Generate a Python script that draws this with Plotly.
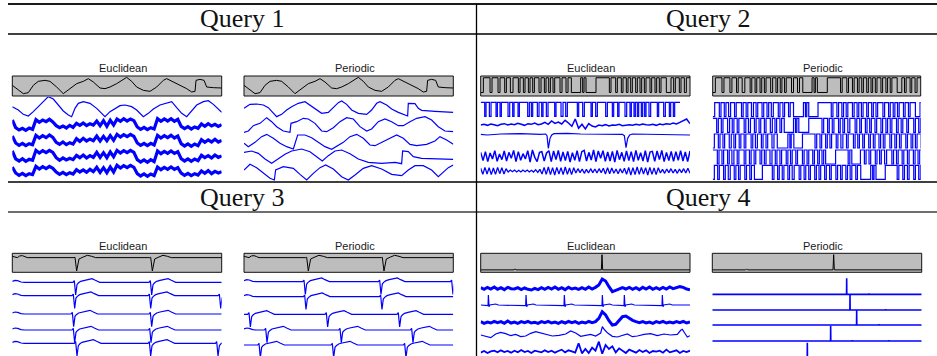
import plotly.graph_objects as go

W, H = 937, 356
SPAN = 628  # samples per window

# ======================= DATA =======================
# ---- Query 1 (shared by Euclidean / Periodic boxes) : (t, value)
Q1_QUERY = [(0,32),(18,17),(33,7),(48,10),(63,32),(78,44),(98,47),(113,44),(133,27),(153,7),(173,22),(193,37),
            (213,44),(228,52),(243,42),(263,24),(278,22),(293,27),(313,37),(328,47),(343,56),(358,44),(373,27),
            (393,17),(413,14),(433,27),(453,47),(463,52),(483,42),(503,32),(523,22),(538,12),(548,14),(551,47),
            (563,50),(575,47),(583,27),(603,25),(628,24)]
E1_SMOOTH = [(0,5),(18,-5),(33,-18),(48,-23),(63,-10),(83,10),(98,25),(108,35),(123,28),(138,10),(153,-8),(168,-20),
             (178,-25),(188,0),(198,15),(213,20),(233,15),(253,0),(268,-15),(278,-25),(293,-10),(308,0),(323,8),
             (338,10),(358,5),(373,-5),(393,-25),(408,-15),(423,-2),(443,10),(463,17),(478,20),(493,2),(508,-15),
             (523,-25),(538,-8),(553,10),(573,20),(588,23),(603,12),(618,-3),(628,-12)]
E1_NOISY = [
    [15,-8,-15,-10,-16,-9,-13,16,8,15,10,17,9,-2,-8,-3,-9,-1,-7,5,-1,6,-2,4,0,12,-2,13,-4,14,0,18,11,19,12,18,13,
     -6,-13,-7,-14,-8,-12,19,11,18,12,19,11,17,-4,-11,-5,-12,-6,-10,3,-4,4,-3,2,-4,1],
    [12,-9,-16,-10,-17,-11,-14,14,6,13,7,15,8,-7,-13,-6,-14,-8,-12,4,-4,5,-3,3,-2,12,-3,11,-2,13,-1,17,9,16,10,17,11,
     -9,-16,-10,-17,-10,-15,14,6,13,7,14,6,12,-11,-18,-12,-19,-12,-17,1,-7,0,-6,2,-6,-1],
    [14,-10,-16,-9,-17,-11,-14,16,8,15,9,16,10,-6,-14,-7,-13,-8,-12,1,-6,2,-7,0,-5,10,-5,9,-6,11,-3,16,8,15,9,16,10,
     -12,-19,-13,-20,-12,-18,14,6,13,7,14,7,12,-9,-16,-10,-17,-10,-15,1,-6,0,-7,2,-5,-1],
    [12,-6,-13,-7,-14,-8,-11,14,6,13,7,14,8,-3,-10,-4,-11,-5,-9,4,-3,3,-4,5,-2,11,-4,10,-5,12,-3,17,9,16,10,17,11,
     -8,-15,-9,-16,-9,-14,12,4,11,5,12,5,10,-6,-13,-7,-14,-8,-12,0,-7,1,-8,-1,-6,-2],
]
P1_LINES = [
    [(0,0),(18,12),(38,13),(58,10),(73,2),(88,-15),(98,-25),(113,-18),(128,-5),(143,5),(163,15),(183,20),(198,10),
     (213,-2),(233,-15),(253,-12),(268,2),(283,17),(293,22),(308,12),(323,-5),(343,-15),(368,-18),(383,-5),(398,15),
     (408,20),(428,10),(443,-2),(463,-12),(483,-20),(491,-23),(493,15),(513,14),(523,0),(533,-6),(573,-9),(628,-12)],
    [(0,-22),(13,-18),(28,-2),(48,5),(68,22),(83,10),(98,-5),(118,-18),(138,-22),(141,5),(158,10),(178,20),(193,18),
     (213,5),(233,-18),(248,-20),(268,-8),(288,10),(308,22),(328,18),(348,-5),(368,-18),(383,-12),(403,10),(423,18),
     (443,10),(463,-2),(478,-2),(498,10),(518,20),(543,25),(563,15),(583,-5),(603,-18),(628,-20)],
    [(0,-5),(13,-15),(33,-2),(53,15),(68,22),(88,10),(108,-5),(128,-15),(148,-22),(153,-5),(161,20),(183,20),(203,12),
     (223,-2),(243,-15),(263,-23),(278,-15),(298,-2),(318,15),(338,22),(358,10),(378,-10),(393,-12),(413,-2),(433,10),
     (458,20),(478,10),(498,-8),(518,-12),(548,-8),(573,2),(588,15),(608,5),(628,-8)],
    [(0,13),(23,17),(43,10),(63,-7),(83,-20),(103,-7),(123,7),(143,17),(173,23),(198,15),(218,0),(235,-13),(253,3),
     (273,17),(293,20),(318,9),(343,-7),(373,-17),(413,-20),(453,-17),(473,-21),(476,17),(493,15),(508,0),(533,-5),
     (573,-6),(628,-8)],
    [(0,5),(18,22),(38,12),(58,-5),(78,-20),(91,-25),(95,5),(118,15),(148,10),(168,-8),(188,-25),(208,-5),(228,12),
     (245,20),(268,8),(293,-15),(313,-25),(333,-10),(358,10),(383,18),(413,8),(443,-8),(473,-12),(493,5),(513,18),
     (538,18),(563,5),(583,-15),(598,-2),(613,12),(628,20)],
]

# ---- Query 2 : run lengths of alternating levels
Q2_QUERY_RUNS = [8,20,6,18,6,14,5,12,8,16,5,10,5,10,5,8,5,14,6,10,5,8,5,8,5,16,6,12,6,10,28,6,4,6,30,40,5,14,5,12,
                 5,10,5,8,5,10,5,8,5,8,5,12,5,10,5,8,5,16,14,8,5,12,5,10,6,11]
E2_SQUARE_RUNS = [12,4,10,5,15,4,8,4,20,5,9,4,12,4,25,5,6,4,14,5,8,4,10,5,20,4,15,6,8,5,30,4,12,5,20,4,10,5,25,5,
                  15,4,12,4,18,5,10,4,8,4,6,4,8,4,6,4,9,5,20,4,15,5,12,4,8,4,16]
E2_NOISE = [0,2,-1,3,1,-2,2,4,0,3,1,5,2,-1,4,2,6,1,3,8,2,12,5,9,3,14,6,-4,18,-10,2,-12,4,-3,-6,0,-2,1,-3,0,
            -1,2,-2,0,1,-1,2,0,3,1,0,2,-1,3,1,4,2,6,3,8,12,18,4]
E2_SPIKES = [(0,2),(20,0),(60,3),(120,4),(180,2),(195,3),(199,-2),(203,-40),(208,-10),(213,0),(220,4),(260,5),
             (300,3),(380,2),(425,2),(431,-2),(436,-38),(441,-10),(447,0),(455,3),(500,2),(560,0),(628,0)]
E2_OSC = [10,-15,12,-18,8,-10,15,-17,5,-12,14,-16,10,-8,16,-18,12,-14,6,-10,
          15,-19,17,-5,-18,10,12,-16,8,15,-18,14,-12,16,-17,11,-15,13,-19,9,
          -14,15,-18,12,16,-16,10,-13,17,-18,14,-8,15,-17,11,-16,13,-19,16,-12,
          10,-17,14,-15,12,-18,16,-14,9,-16,15,-19,11,13,-17,14,-12,16,-18,10,
          -15,13,-17,12,-14,15,-16,11,-18,14]
E2_WAVE = [8,-10,11,-9,10,-11,9,-10,11,-8,10,-9,7,
           -3,3,-2,3,-3,2,-3,3,-2,3,-3,2,-3,4,-4,5,
           -9,11,-10,12,-11,10,-12,11,-9,10,-11,12,-10,9,-11,10,
           -6,7,-5,6,-7,5,-6,7,-5,6,-6,7,-5,8,-9,10,-8,9,-7,6,-8,7,-6,8,
           -10,11,-12,10,-11,12,-10,11,-9,10,-12,11,-10,9,-11,10,
           -6,5,-7,6,-5,7,-6,5,-7,6,-5,7,-6,8,-7]
P2_RUNS = [
    (0, [6,14,5,10,5,8,6,12,5,16,5,9,5,11,6,8,5,13,5,10,5,8,6,15,5,9,5,12,5,10,30,6,4,6,28,40,5,12,5,10,5,8,5,14,5,9,
         5,8,5,11,5,10,5,8,5,16,5,12,5,9,5,8,5,13,5,10,5,16,14,10]),
    (1, [12,5,9,5,14,6,8,5,10,5,16,5,8,6,12,5,9,5,11,5,13,6,8,5,10,5,8,28,6,4,6,30,40,5,12,5,9,5,14,5,8,5,10,6,16,5,
         9,5,12,5,8,5,11,5,13,5,10,5,8,5,14,5,9,5,12,5,16,5,10,5,12]),
    (0, [5,12,5,9,5,14,6,8,5,11,5,10,5,16,5,8,6,12,5,9,5,13,6,10,32,6,4,8,26,38,5,10,5,12,5,8,5,14,5,9,6,11,5,16,5,8,
         5,10,5,13,5,9,5,12,5,8,5,15,5,10,5,9,5,14,5,11,5,8,5,12,5,10,5,16]),
    (1, [14,5,9,5,12,5,8,6,10,5,16,5,11,5,9,5,13,5,8,5,12,6,10,5,9,5,14,5,8,5,11,5,15,5,9,5,12,5,10,5,8,5,6,30,38,5,
         6,26,12,5,9,5,14,5,8,5,10,6,16,5,9,5,12,5,11,5,13,5,9,5,8,5]),
    (0, [5,10,5,13,5,9,6,12,5,8,5,14,5,10,5,9,24,30,5,11,5,9,5,12,5,8,6,15,5,10,5,9,5,13,5,8,5,12,5,10,5,14,5,9,5,11,
         5,8,5,12,5,10,30,6,4,6,28,36,5,12,5,9,5,14,5,10,5,8]),
]

# ---- Query 3 (ECG)
Q3_QUERY = [(0,4),(8,2),(15,0),(22,5),(30,6),(38,3),(45,0),(185,0),(188,1),(193,-40),(200,-4),(213,2),(225,7),
            (238,4),(250,0),(412,0),(415,1),(420,-40),(427,-4),(440,2),(452,7),(465,4),(477,0),(628,0)]
BEAT_DT = [-5, -1, 3, 7, 11, 18, 28, 40, 52, 62, 75]
BEAT_V = [0, 5, -38, -7, -2, 3, 6, 9, 11, 6, 0]
P_WAVE_DT = [0, 8, 16, 26, 36]
P_WAVE_V = [3, 6, 5, 1, 0]
E3_ONSETS = [[187, 415], [184, 412, 622], [181, 415], [184, 413], [191, 412, 614]]
E3_PWAVE = [True, True, True, True, True]
P3_ONSETS = [[181, 408, 624], [183, 411], [16, 248, 464], [66, 289, 504], [46, 266, 483]]
P3_PWAVE = [True, True, False, True, False]

# ---- Query 4
Q4_QUERY = [(0,0),(100,0),(103,3),(106,0),(362,0),(364,44),(366,0),(396,0),(398,2),(400,0),(628,0)]
E4_NOISY_A = [2,-3,3,-2,4,-3,2,-4,3,-1,-2,2,-4,1,-3,-5,0,-4,2,-3,3,-2,4,-3,2,-4,3,-2,1,-3,2,-3,4,-2,3,
              10,28,22,5,-10,-6,-2,2,-2,3,-3,2,-4,3,-2,4,-3,2,-3,3,-2,4,-1,2,5,3,-2,-4]
E4_SPIKE_ONSETS = [23, 136, 251, 365, 431, 545]
SPIKE_DT = [-4, -1, 0, 2, 4, 12, 22, 30]
SPIKE_V = [0, -2, 30, -5, 0, 2, 3, 0]
E4_NOISY_B = [2,-3,1,-2,3,-1,2,-3,4,-2,1,-3,2,-1,3,-2,0,-3,2,-1,3,-2,1,-3,2,-2,3,-1,2,-3,1,-2,3,-1,2,
              12,32,22,5,-8,-6,5,17,19,12,6,2,-1,2,-2,1,-3,2,-1,3,-2,1,-2,2,-1,3,-2,1]
E4_WAVY = [(0,0),(15,-3),(30,-8),(45,3),(60,8),(75,4),(90,-2),(105,2),(120,-5),(135,-3),(150,5),(165,10),(180,6),
           (195,2),(215,-3),(235,-1),(255,3),(270,12),(285,6),(300,-4),(315,-2),(330,2),(345,-3),(360,6),(365,25),
           (372,15),(382,5),(395,-4),(410,-6),(425,-2),(440,3),(455,-5),(470,-3),(490,2),(510,4),(530,-2),(550,3),
           (570,0),(590,2),(600,14),(605,17),(612,6),(620,-6),(628,-2)]
E4_NOISY_C = [-3,2,-4,1,3,-2,4,-1,2,-3,3,-2,5,-1,2,-4,3,0,-2,4,-1,3,-3,2,6,-2,4,1,-3,
              25,-5,8,-4,12,3,30,-6,20,8,16,-2,10,3,-4,6,2,-3,5,-1,4,-4,2,0,3,-3,6,-2,1,4,-4,2,-1,3]
P4_SPIKE_T = [403, 413, 433, 355, 285]
P4_SPIKE_H = [48, 47, 45, 46, 45]
P4_BLIPS = [[60, 140, 250, 470], [50, 150, 300, 520], [80, 170, 350, 500], [90, 200, 420, 530], [60, 230, 400, 560]]

# ======================= LAYOUT =======================
PANEL_X = {'E1': (12.3, 221.7), 'P1': (244.0, 453.3), 'E2': (480.7, 690.0), 'P2': (712.7, 920.7),
           'E3': (12.3, 221.7), 'P3': (244.0, 453.3), 'E4': (480.7, 690.0), 'P4': (712.3, 921.7)}
ROWS = {1: dict(oy=55, box=(76.0, 96.0), title=68.5, zy=(125, 378)),
        2: dict(oy=235, box=(253.3, 272.3), title=245.5, zy=(118, 363))}
BOX_YR = {1: [0, 60], 2: [-0.24, 1.12], 3: [-44, 13], 4: [-7, 48]}
REFS = {'E1': [160, 210, 255, 302, 348], 'P1': [160, 210, 260, 305, 350],
        'E2': [162, 210, 240, 302, 348], 'P2': [164, 211, 258, 306, 352],
        'E3': [142, 182, 237, 285, 325], 'P3': [140, 185, 238, 285, 330],
        'E4': [160, 210, 262, 300, 350], 'P4': [178, 225, 270, 318, 368]}
BLUE = '#0000ff'

fig = go.Figure()
_count = [0]


def make_axes(px0, px1, py0, py1, xr, yr):
    _count[0] += 1
    n = _count[0]
    s = '' if n == 1 else str(n)
    c = lambda v: min(1.0, max(0.0, v))
    fig.update_layout({
        f'xaxis{s}': dict(domain=[c(px0 / W), c(px1 / W)], range=xr, visible=False, fixedrange=True, anchor=f'y{s}'),
        f'yaxis{s}': dict(domain=[c(1 - py1 / H), c(1 - py0 / H)], range=yr, visible=False, fixedrange=True,
                          anchor=f'x{s}'),
    })
    return f'x{s}', f'y{s}'


def add_line(ax, xs, ys, color=BLUE, width=1.2, shape='linear'):
    fig.add_trace(go.Scatter(x=list(xs), y=list(ys), xaxis=ax[0], yaxis=ax[1], mode='lines',
                             line=dict(color=color, width=width, shape=shape),
                             hoverinfo='skip', showlegend=False))


def setup_panel(key, q, row, title):
    x0, x1 = PANEL_X[key]
    r = ROWS[row]
    box = make_axes(x0, x1, r['box'][0], r['box'][1], [0, SPAN], BOX_YR[q])
    fig.add_shape(type='rect', xref=f'{box[0]} domain', yref=f'{box[1]} domain', x0=0, x1=1, y0=0, y1=1,
                  fillcolor='#bdbdbd', line=dict(color='#111111', width=1), layer='below')
    lines = make_axes(x0, x1, r['oy'] + r['zy'][0] / 3, r['oy'] + r['zy'][1] / 3, [0, SPAN],
                      [-r['zy'][1], -r['zy'][0]])
    fig.add_annotation(x=((x0 + x1) / 2 + 6) / W, y=1 - r['title'] / H, xref='paper', yref='paper',
                       text=title, showarrow=False, xanchor='center', yanchor='middle',
                       font=dict(family='Liberation Sans, Arial', size=11, color='#1a1a1a'))
    return box, lines


def pairs(p):
    return [a for a, _ in p], [b for _, b in p]


def samples(vals):
    return [i * SPAN / (len(vals) - 1) for i in range(len(vals))], vals


def runs_xy(runs, start):
    xs, ys, t, lvl = [], [], 0, start
    for d in runs:
        xs.append(t); ys.append(lvl)
        t += d; lvl = 1 - lvl
    xs.append(t); ys.append(1 - lvl)
    return xs, ys


def ecg(onsets, pwave, dts=BEAT_DT, vs=BEAT_V):
    pts = list(zip(P_WAVE_DT, P_WAVE_V)) if pwave else [(0, 0)]
    for o in onsets:
        pts += [(o + d, v) for d, v in zip(dts, vs)]
    if all(o + dts[-1] < SPAN for o in onsets):
        pts.append((SPAN, 0))
    pts.sort()
    return pairs(pts)


def stacked(ax, ref, xs, ys, width=1.2, shape='linear'):
    add_line(ax, xs, [-ref + v for v in ys], width=width, shape=shape)


# ---------- Query 1 ----------
bx, ln = setup_panel('E1', 1, 1, 'Euclidean')
add_line(bx, *pairs(Q1_QUERY), color='#000000', width=1)
stacked(ln, REFS['E1'][0], *pairs(E1_SMOOTH))
for k, vals in enumerate(E1_NOISY):
    stacked(ln, REFS['E1'][k + 1], *samples(vals), width=3.2)

bx, ln = setup_panel('P1', 1, 1, 'Periodic')
add_line(bx, *pairs(Q1_QUERY), color='#000000', width=1)
for k, p in enumerate(P1_LINES):
    stacked(ln, REFS['P1'][k], *pairs(p))

# ---------- Query 2 ----------
SQ_HI, SQ_LO = 20, -22
bx, ln = setup_panel('E2', 2, 1, 'Euclidean')
add_line(bx, *runs_xy(Q2_QUERY_RUNS, 0), color='#000000', width=1, shape='hv')
xs, lv = runs_xy(E2_SQUARE_RUNS, 1)
stacked(ln, REFS['E2'][0], xs, [SQ_HI if v else SQ_LO for v in lv], shape='hv')
stacked(ln, REFS['E2'][1], *samples(E2_NOISE), width=1.5)
stacked(ln, REFS['E2'][2], *pairs(E2_SPIKES))
stacked(ln, REFS['E2'][3], *samples(E2_OSC), width=1.5)
stacked(ln, REFS['E2'][4], *samples(E2_WAVE), width=1.3)

bx, ln = setup_panel('P2', 2, 1, 'Periodic')
add_line(bx, *runs_xy(Q2_QUERY_RUNS, 0), color='#000000', width=1, shape='hv')
for k, (start, runs) in enumerate(P2_RUNS):
    xs, lv = runs_xy(runs, start)
    stacked(ln, REFS['P2'][k], xs, [21 if v else -21 for v in lv], shape='hv')

# ---------- Query 3 ----------
bx, ln = setup_panel('E3', 3, 2, 'Euclidean')
add_line(bx, *pairs(Q3_QUERY), color='#000000', width=1)
for k, (ons, pw) in enumerate(zip(E3_ONSETS, E3_PWAVE)):
    stacked(ln, REFS['E3'][k], *ecg(ons, pw))

bx, ln = setup_panel('P3', 3, 2, 'Periodic')
add_line(bx, *pairs(Q3_QUERY), color='#000000', width=1)
for k, (ons, pw) in enumerate(zip(P3_ONSETS, P3_PWAVE)):
    stacked(ln, REFS['P3'][k], *ecg(ons, pw))

# ---------- Query 4 ----------
bx, ln = setup_panel('E4', 4, 2, 'Euclidean')
add_line(bx, *pairs(Q4_QUERY), color='#000000', width=1)
stacked(ln, REFS['E4'][0], *samples(E4_NOISY_A), width=3)
stacked(ln, REFS['E4'][1], *ecg(E4_SPIKE_ONSETS, False, SPIKE_DT, SPIKE_V))
stacked(ln, REFS['E4'][2], *samples(E4_NOISY_B), width=3)
stacked(ln, REFS['E4'][3], *pairs(E4_WAVY))
stacked(ln, REFS['E4'][4], *samples(E4_NOISY_C), width=1.8)

bx, ln = setup_panel('P4', 4, 2, 'Periodic')
add_line(bx, *pairs(Q4_QUERY), color='#000000', width=1)
for k in range(5):
    pts = [(0, 0), (SPAN, 0)]
    for b in P4_BLIPS[k]:
        pts += [(b - 1, 0), (b, 2), (b + 1, 0)]
    t = P4_SPIKE_T[k]
    pts += [(t - 0.4, 0), (t, P4_SPIKE_H[k]), (t + 0.4, 0)]
    pts.sort()
    stacked(ln, REFS['P4'][k], *pairs(pts), width=1.6)

# ---------- table rules and headers ----------
RULES = [(8, 4, W, 4, 2.0, '#1a1a1a'), (8, 34, W, 34, 1.3, '#000000'), (8, 182, W, 182, 1.3, '#000000'),
         (8, 212, W, 212, 2.0, '#6e6e6e'), (476.5, 4, 476.5, H, 1.3, '#000000')]
for x0, y0, x1, y1, w, c in RULES:
    fig.add_shape(type='line', xref='paper', yref='paper', x0=x0 / W, x1=x1 / W, y0=1 - y0 / H, y1=1 - y1 / H,
                  line=dict(color=c, width=w))

HEADERS = ['Query 1', 'Query 2', 'Query 3', 'Query 4']
HEADER_POS = [(242, 19), (708, 19), (242, 197), (708, 197)]
for txt, (hx, hy) in zip(HEADERS, HEADER_POS):
    fig.add_annotation(x=hx / W, y=1 - hy / H, xref='paper', yref='paper', text=txt, showarrow=False,
                       xanchor='center', yanchor='middle',
                       font=dict(family='Liberation Serif, Times New Roman, serif', size=26, color='#111111'))

fig.update_layout(width=W, height=H, margin=dict(l=0, r=0, t=0, b=0), paper_bgcolor='white',
                  plot_bgcolor='rgba(0,0,0,0)', showlegend=False)
fig.write_html('out.html')
